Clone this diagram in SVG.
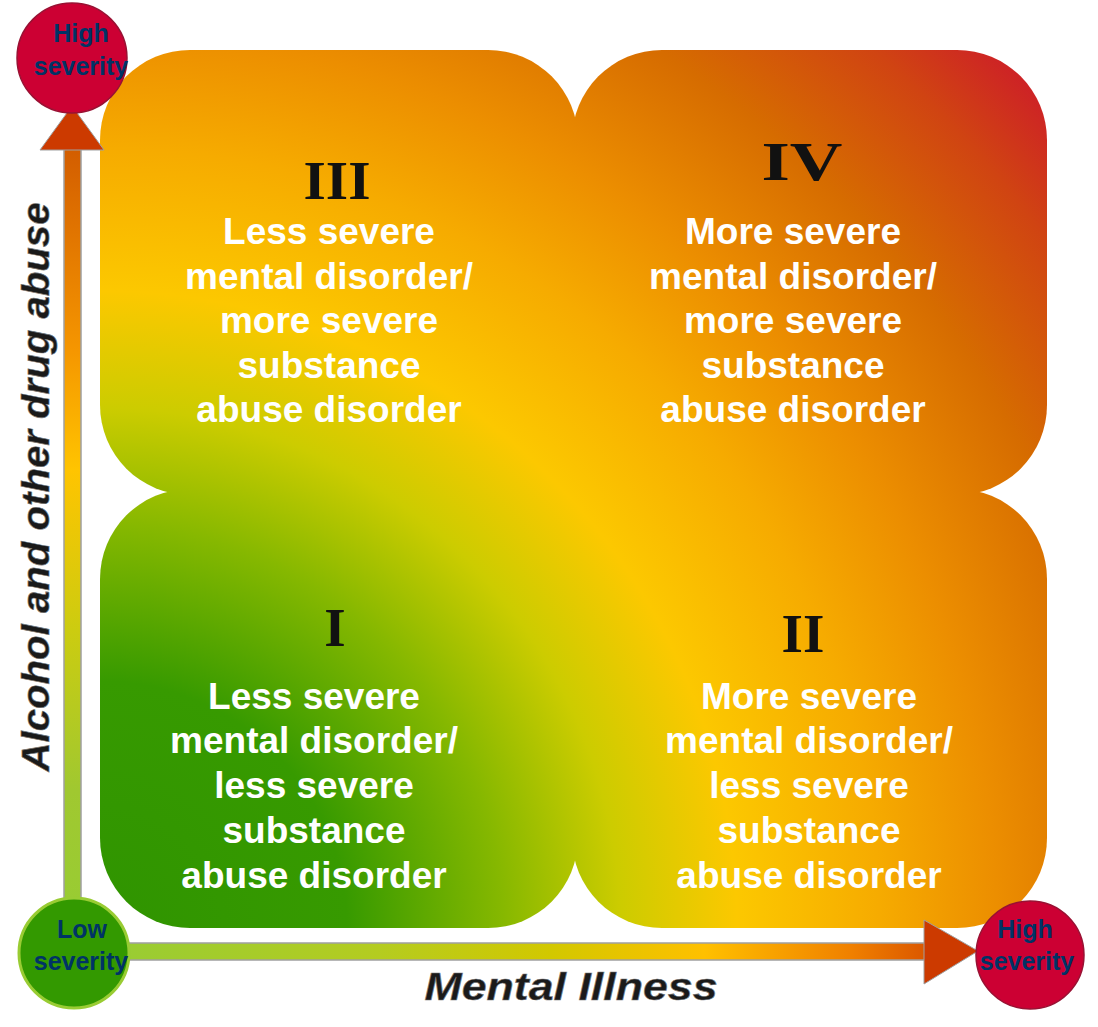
<svg xmlns="http://www.w3.org/2000/svg" width="1098" height="1027" viewBox="0 0 1098 1027">
<defs>
<radialGradient id="bg" gradientUnits="userSpaceOnUse" cx="100" cy="928" r="1300">
<stop offset="0" stop-color="#2f9400"/>
<stop offset="0.19" stop-color="#379a00"/>
<stop offset="0.31" stop-color="#86b800"/>
<stop offset="0.40" stop-color="#cccc00"/>
<stop offset="0.49" stop-color="#fcc800"/>
<stop offset="0.60" stop-color="#f6ab00"/>
<stop offset="0.69" stop-color="#ec8e00"/>
<stop offset="0.80" stop-color="#d66c00"/>
<stop offset="0.90" stop-color="#d04412"/>
<stop offset="1" stop-color="#cc1030"/>
</radialGradient>
<linearGradient id="vshaft" gradientUnits="userSpaceOnUse" x1="0" y1="110" x2="0" y2="910">
<stop offset="0" stop-color="#cc5200"/>
<stop offset="0.3" stop-color="#f59600"/>
<stop offset="0.45" stop-color="#ffc400"/>
<stop offset="0.65" stop-color="#cccc10"/>
<stop offset="0.85" stop-color="#a0c830"/>
<stop offset="1" stop-color="#99cc33"/>
</linearGradient>
<linearGradient id="hshaft" gradientUnits="userSpaceOnUse" x1="120" y1="0" x2="980" y2="0">
<stop offset="0" stop-color="#99cc33"/>
<stop offset="0.3" stop-color="#b4cc20"/>
<stop offset="0.5" stop-color="#d2c800"/>
<stop offset="0.68" stop-color="#ffc000"/>
<stop offset="0.85" stop-color="#f08000"/>
<stop offset="1" stop-color="#cc3a00"/>
</linearGradient>
<style>
.blob{fill:url(#bg);}
.qt{font-family:"Liberation Sans",Arial,sans-serif;font-weight:bold;font-size:37px;fill:#ffffff;text-anchor:middle;}
.num{font-family:"Liberation Serif","Times New Roman",serif;font-weight:bold;font-size:55px;fill:#111111;text-anchor:middle;}
.ct{font-family:"Liberation Sans",Arial,sans-serif;font-weight:bold;font-size:25px;fill:#003366;text-anchor:middle;}
.axis{font-family:"Liberation Sans",Arial,sans-serif;font-weight:bold;font-style:italic;font-size:38px;fill:#1a1a1a;text-anchor:middle;stroke:#777;stroke-width:0.6;}
.shaft{stroke:#a0a0a0;stroke-width:1.5;}
.head{fill:#cc3a00;stroke:#a0a0a0;stroke-width:1;}
.hi{fill:#cc0033;stroke:#991133;stroke-width:1.5;}
.lo{fill:#339900;stroke:#99cc33;stroke-width:3;}
</style>
</defs>
<rect width="1098" height="1027" fill="#ffffff"/>

<g id="background-blob">
<rect class="blob" x="300" y="250" width="550" height="480"/>
<rect class="blob" x="100" y="50" width="478" height="445" rx="90" ry="90"/>
<rect class="blob" x="572" y="50" width="475" height="445" rx="90" ry="90"/>
<rect class="blob" x="100" y="489" width="478" height="439" rx="90" ry="90"/>
<rect class="blob" x="572" y="489" width="475" height="439" rx="90" ry="90"/>
</g>

<g id="connectors">
<rect class="shaft" x="64" y="140" width="17" height="770" fill="url(#vshaft)"/>
<polygon class="head" points="72,106 40,150 104,150"/>
<rect class="shaft" x="120" y="943" width="815" height="17" fill="url(#hshaft)"/>
<polygon class="head" points="978,951 924,920 924,984"/>
</g>

<g id="quadrant-III">
<text class="num" x="337" y="199" textLength="67" lengthAdjust="spacingAndGlyphs">III</text>
<text class="qt" x="329" y="244">Less severe</text>
<text class="qt" x="329" y="289">mental disorder/</text>
<text class="qt" x="329" y="333">more severe</text>
<text class="qt" x="329" y="378">substance</text>
<text class="qt" x="329" y="422">abuse disorder</text>
</g>

<g id="quadrant-IV">
<text class="num" x="802" y="180" textLength="81" lengthAdjust="spacingAndGlyphs">IV</text>
<text class="qt" x="793" y="244">More severe</text>
<text class="qt" x="793" y="289">mental disorder/</text>
<text class="qt" x="793" y="333">more severe</text>
<text class="qt" x="793" y="378">substance</text>
<text class="qt" x="793" y="422">abuse disorder</text>
</g>

<g id="quadrant-I">
<text class="num" x="335" y="646">I</text>
<text class="qt" x="314" y="709">Less severe</text>
<text class="qt" x="314" y="753">mental disorder/</text>
<text class="qt" x="314" y="798">less severe</text>
<text class="qt" x="314" y="843">substance</text>
<text class="qt" x="314" y="888">abuse disorder</text>
</g>

<g id="quadrant-II">
<text class="num" x="803" y="652">II</text>
<text class="qt" x="809" y="709">More severe</text>
<text class="qt" x="809" y="753">mental disorder/</text>
<text class="qt" x="809" y="798">less severe</text>
<text class="qt" x="809" y="843">substance</text>
<text class="qt" x="809" y="888">abuse disorder</text>
</g>

<g id="circle-high-y">
<circle class="hi" cx="72" cy="58" r="55"/>
<text class="ct" x="81" y="42">High</text>
<text class="ct" x="81" y="75">severity</text>
</g>

<g id="circle-low">
<circle class="lo" cx="74" cy="953" r="55"/>
<text class="ct" x="82" y="938">Low</text>
<text class="ct" x="81" y="970">severity</text>
</g>

<g id="circle-high-x">
<circle class="hi" cx="1030" cy="955" r="54"/>
<text class="ct" x="1025" y="938">High</text>
<text class="ct" x="1027" y="970">severity</text>
</g>

<g id="axis-labels">
<text class="axis" x="571" y="1000" textLength="293" lengthAdjust="spacingAndGlyphs">Mental Illness</text>
<text class="axis" transform="translate(49,487) rotate(-90)" x="0" y="0" textLength="569" lengthAdjust="spacingAndGlyphs">Alcohol and other drug abuse</text>
</g>
</svg>
